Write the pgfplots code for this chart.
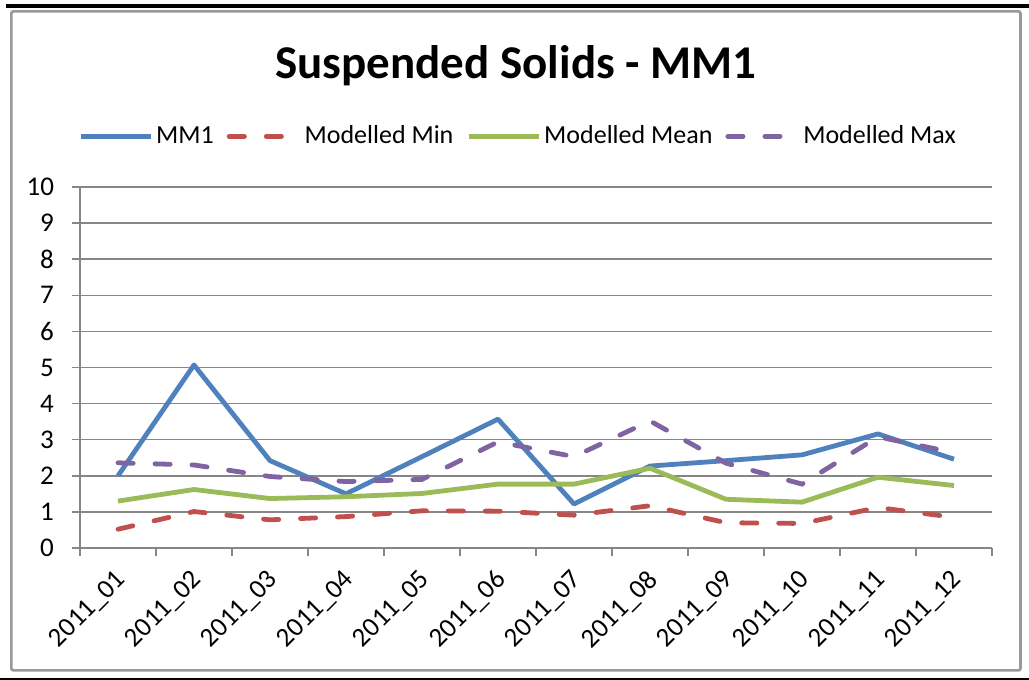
\documentclass[border=0pt]{standalone}
\usepackage{fontspec}
\setmainfont{Carlito}
\usepackage{pgfplots}
\pgfplotsset{compat=1.18}

\definecolor{xlblue}{HTML}{4F81BD}
\definecolor{xlred}{HTML}{C0504D}
\definecolor{xlgreen}{HTML}{9BBB59}
\definecolor{xlpurple}{HTML}{8064A2}
\definecolor{xlgrid}{HTML}{868686}

\begin{document}
\begin{tikzpicture}[x=1pt, y=1pt]
% page frame (1px = 0.5pt, origin at the plot's lower left corner)
\useasboundingbox (-40,-66) rectangle (474.5,274);
\fill[black] (-37,270) rectangle (474.5,272);
\fill[black] (-40,-65) rectangle (474.5,-66);
\draw[line width=1.35pt, color=black!40, rounded corners=1pt] (-34.3,-61.2) rectangle (470.2,268.3);

\begin{axis}[
    at={(0,0)}, anchor=south west,
    scale only axis,
    width=456pt, height=180.5pt,
    xmin=0, xmax=12,
    ymin=0, ymax=10,
    xtick={0,...,12},
    x tick label as interval,
    xticklabels={2011\_01,2011\_02,2011\_03,2011\_04,2011\_05,2011\_06,2011\_07,2011\_08,2011\_09,2011\_10,2011\_11,2011\_12},
    ytick={0,...,10},
    axis x line*=bottom, axis y line*=left,
    axis line style={draw=xlgrid, line width=0.75pt, -},
    tick align=outside,
    major tick length=4pt,
    tick style={draw=xlgrid, line width=0.75pt},
    ymajorgrids=true,
    grid style={draw=xlgrid, line width=0.75pt},
    tick label style={font=\fontsize{13.5}{15}\selectfont},
    /pgf/number format/assume math mode=true,
    yticklabel style={anchor=east, xshift=-5.5pt},
    xticklabel style={xshift=-2pt, yshift=-4.5pt, rotate=45, anchor=north east, inner sep=1pt},
    title={Suspended Solids - MM1},
    title style={at={(0.478,1.2665)}, anchor=base, yshift=0pt, font=\fontsize{23.5}{28}\selectfont\bfseries},
    legend columns=4,
    legend style={at={(0.481,1.14)}, anchor=center, draw=none, fill=none,
        font=\fontsize{13}{15}\selectfont,
        nodes={inner sep=1.5pt},
        /tikz/every even column/.append style={column sep=5pt}},
    legend image code/.code={\draw[#1] (0pt,0pt) -- (35pt,0pt);},
]
\addplot[xlblue, line width=2.4pt, line join=round] coordinates {
    (0.5,2.00)(1.5,5.07)(2.5,2.42)(3.5,1.50)(4.5,2.53)(5.5,3.57)
    (6.5,1.22)(7.5,2.27)(8.5,2.42)(9.5,2.58)(10.5,3.16)(11.5,2.46)
};
\addlegendentry{MM1}
\addplot[xlred, line width=2.4pt, line cap=round, dash pattern=on 7.6pt off 10.9pt] coordinates {
    (0.5,0.52)(1.5,1.01)(2.5,0.78)(3.5,0.87)(4.5,1.03)(5.5,1.02)
    (6.5,0.91)(7.5,1.17)(8.5,0.70)(9.5,0.68)(10.5,1.12)(11.5,0.85)
};
\addlegendentry{Modelled Min}
\addplot[xlgreen, line width=2.4pt, line join=round] coordinates {
    (0.5,1.30)(1.5,1.62)(2.5,1.37)(3.5,1.42)(4.5,1.51)(5.5,1.77)
    (6.5,1.77)(7.5,2.21)(8.5,1.35)(9.5,1.27)(10.5,1.96)(11.5,1.73)
};
\addlegendentry{Modelled Mean}
\addplot[xlpurple, line width=2.4pt, line cap=round, dash pattern=on 7.6pt off 10.9pt] coordinates {
    (0.5,2.36)(1.5,2.30)(2.5,1.98)(3.5,1.84)(4.5,1.90)(5.5,2.94)
    (6.5,2.53)(7.5,3.52)(8.5,2.35)(9.5,1.77)(10.5,3.08)(11.5,2.64)
};
\addlegendentry{Modelled Max}
\end{axis}
\end{tikzpicture}
\end{document}
